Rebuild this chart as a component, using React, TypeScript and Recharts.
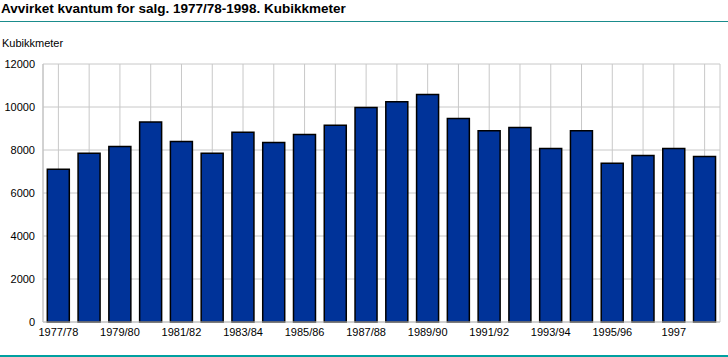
import { BarChart, Bar, XAxis, YAxis, CartesianGrid } from 'recharts';

const seasons = [
  '1977/78', '1978/79', '1979/80', '1980/81', '1981/82', '1982/83', '1983/84',
  '1984/85', '1985/86', '1986/87', '1987/88', '1988/89', '1989/90', '1990/91',
  '1991/92', '1992/93', '1993/94', '1994/95', '1995/96', '1996', '1997', '1998',
];
const volume = [
  7110, 7850, 8160, 9300, 8400, 7850, 8820, 8350, 8720, 9150, 9980,
  10250, 10580, 9460, 8900, 9050, 8070, 8900, 7380, 7750, 8070, 7700,
];
const yTicks = [0, 2000, 4000, 6000, 8000, 10000, 12000];

const chartData = seasons.map((season, i) => ({ season, volume: volume[i] }));

const font = '"Liberation Sans", Arial, sans-serif';

// only every second season gets a label, but every season keeps its grid line
const everyOther = (value: string, index: number) => (index % 2 === 0 ? value : '');

export default function App() {
  return (
    <div
      style={{
        position: 'absolute',
        left: 0,
        top: 0,
        width: 728,
        height: 357,
        background: '#fff',
        fontFamily: font,
      }}
    >
      <div
        style={{
          position: 'absolute',
          left: 1,
          top: 1,
          fontSize: 13.5,
          fontWeight: 'bold',
          color: '#000',
          whiteSpace: 'nowrap',
        }}
      >
        Avvirket kvantum for salg. 1977/78-1998. Kubikkmeter
      </div>
      <div
        style={{
          position: 'absolute',
          left: 0,
          top: 21,
          width: 728,
          height: 1,
          background: '#1a8c8c',
        }}
      />
      <div
        style={{
          position: 'absolute',
          left: 2,
          top: 37,
          fontSize: 11,
          color: '#000',
        }}
      >
        Kubikkmeter
      </div>
      <div style={{ position: 'absolute', left: 0, top: 0 }}>
        <BarChart
          width={728}
          height={357}
          data={chartData}
          margin={{ top: 64, right: 8, left: 0, bottom: 0 }}
          barCategoryGap="14%"
        >
          <CartesianGrid stroke="#c8c8c8" strokeWidth={1} />
          <XAxis
            dataKey="season"
            height={35}
            interval={0}
            tickFormatter={everyOther}
            tickLine={false}
            tickSize={0}
            tickMargin={6}
            axisLine={{ stroke: '#c0c0c0' }}
            tick={{ fill: '#000', fontSize: 11, fontFamily: font }}
          />
          <YAxis
            width={43}
            domain={[0, 12000]}
            ticks={yTicks}
            interval={0}
            tickLine={false}
            tickSize={0}
            tickMargin={8}
            axisLine={{ stroke: '#c0c0c0' }}
            tick={{ fill: '#000', fontSize: 11, fontFamily: font }}
          />
          <Bar
            dataKey="volume"
            fill="#003399"
            stroke="#000"
            strokeWidth={1.5}
            isAnimationActive={false}
          />
        </BarChart>
      </div>
      <div
        style={{
          position: 'absolute',
          left: 0,
          top: 355,
          width: 728,
          height: 2,
          background: '#00a0a0',
        }}
      />
    </div>
  );
}
